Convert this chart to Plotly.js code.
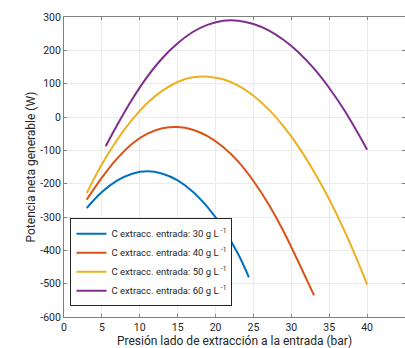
<!DOCTYPE html>
<html>
<head>
<meta charset="utf-8">
<script src="https://cdn.plot.ly/plotly-3.0.1.min.js"></script>
<style>html,body{margin:0;padding:0;background:#fff;}#chart{width:405px;height:348px;}</style>
</head>
<body>
<div id="chart"></div>
<script>
// Series
const x30 = [3, 5, 7, 9, 11, 13, 15, 17, 19, 21, 23, 24.4];
const y30 = [-273, -225, -191, -170, -163, -170, -190, -224, -272, -334, -412, -481];

const x40 = [3, 5, 7, 9, 11, 13, 15, 17, 19, 21, 23, 25, 27, 29, 31, 33];
const y40 = [-248, -182, -125, -80, -50, -34, -30, -38, -58, -90, -134, -192, -262, -344, -438, -535];

const x50 = [3, 5, 7, 9, 11, 13, 15, 17, 19, 21, 23, 25, 27, 29, 31, 33, 35, 37, 39, 40];
const y50 = [-228, -142, -69, -8, 42, 79, 105, 119, 121, 113, 94, 64, 23, -29, -91, -164, -247, -341, -446, -503];

const x60 = [5.5, 7, 9, 11, 13, 15, 17, 19, 21, 23, 25, 27, 29, 31, 33, 35, 37, 39, 40];
const y60 = [-88, -25, 53, 121, 177, 221, 255, 277, 289, 289, 279, 260, 231, 193, 145, 87, 20, -57, -98];

const seriesNames = [
  'C extracc. entrada: 30 g L <sup>-1</sup>',
  'C extracc. entrada: 40 g L <sup>-1</sup>',
  'C extracc. entrada: 50 g L <sup>-1</sup>',
  'C extracc. entrada: 60 g L <sup>-1</sup>'
];
const seriesColors = ['#0072BD', '#D95319', '#EDB120', '#7E2F8E'];

const xTickVals = [0, 5, 10, 15, 20, 25, 30, 35, 40, 45];
const xTickText = ['0', '5', '10', '15', '20', '25', '30', '35', '40', '45'];
const yTickVals = [-600, -500, -400, -300, -200, -100, 0, 100, 200, 300];
const yTickText = ['-600', '-500', '-400', '-300', '-200', '-100', '0', '100', '200', '300'];

const xs = [x30, x40, x50, x60];
const ys = [y30, y40, y50, y60];

const traces = xs.map((xv, i) => ({
  x: xv, y: ys[i], type: 'scatter', mode: 'lines', name: seriesNames[i],
  line: {color: seriesColors[i], width: 2, shape: 'spline', smoothing: 1}
}));

const fontFam = 'Roboto, Open Sans, sans-serif';
const axisCommon = {
  showline: true, linecolor: '#808080', linewidth: 1, mirror: 'ticks',
  ticks: 'inside', ticklen: 3, tickcolor: '#808080',
  showgrid: true, gridcolor: '#ebebeb', gridwidth: 1, zeroline: false,
  tickfont: {family: fontFam, size: 10.5, color: '#262626'}
};

const layout = {
  width: 405, height: 348,
  margin: {l: 64, r: 0, t: 17, b: 31, pad: 0},
  paper_bgcolor: '#fff', plot_bgcolor: '#fff',
  showlegend: true,
  font: {family: fontFam, color: '#262626'},
  xaxis: Object.assign({}, axisCommon, {
    range: [0, 45], tickmode: 'array', tickvals: xTickVals, ticktext: xTickText,
    title: {text: 'Presión lado de extracción a la entrada (bar)', font: {family: fontFam, size: 12, color: '#262626'}, standoff: 5}
  }),
  yaxis: Object.assign({}, axisCommon, {
    range: [-600, 300], tickmode: 'array', tickvals: yTickVals, ticktext: yTickText,
    title: {text: 'Potencia neta generable (W)', font: {family: fontFam, size: 12, color: '#262626'}, standoff: 2}
  }),
  legend: {
    x: 0.019, y: 0.036, xanchor: 'left', yanchor: 'bottom',
    bgcolor: '#fff', bordercolor: '#262626', borderwidth: 1,
    font: {family: fontFam, size: 9.5, color: '#262626'},
    tracegroupgap: 0, itemwidth: 30
  }
};

Plotly.newPlot('chart', traces, layout, {staticPlot: true, displayModeBar: false});
</script>
</body>
</html>
